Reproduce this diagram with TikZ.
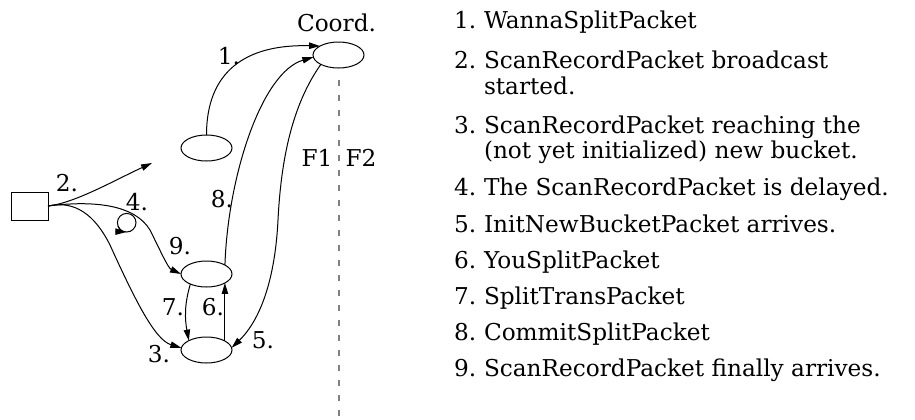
\documentclass[tikz,border=0pt]{standalone}
\usepackage{fontspec}
\setmainfont{DejaVu Serif}
\usetikzlibrary{arrows.meta,shapes.geometric,calc}
\definecolor{sepgray}{RGB}{128,128,128}
\begin{document}
\begin{tikzpicture}[x=0.5pt,y=-0.5pt,
  every node/.style={font=\fontsize{11.6}{13}\selectfont, inner sep=0pt, outer sep=0pt},
  site/.style={ellipse, draw, line width=0.5pt, minimum width=25.5pt, minimum height=13pt},
  hostbox/.style={rectangle, draw, line width=0.5pt, minimum width=18.5pt, minimum height=14pt},
  pkt/.style={line width=0.5pt, -{Triangle[length=5.5pt,width=3.2pt]}},
  wire/.style={line width=0.5pt},
  lbl/.style={anchor=center},
  item/.style={anchor=base west},
  sep/.style={draw=sepgray, line width=0.6pt, dash pattern=on 3pt off 4.5pt}]
\useasboundingbox (0,0) rectangle (915,419);

% sites and the client host
\node[site] (coord) at (338.5,55) {};
\node[site] (old)   at (206.5,148) {};
\node[site] (mid)   at (206.5,274) {};
\node[site] (bot)   at (206.5,350) {};
\node[hostbox] (box) at (29.5,206) {};
\node[lbl] (coordlbl) at (336.5,23) {Coord.};

% separator between F1 and F2
\coordinate (sepTop) at (339,80);
\coordinate (sepBot) at (339,419);
\draw[sep] (sepTop) -- (sepBot);
\node[lbl] (f1) at (317,158) {F1};
\node[lbl] (f2) at (361,158) {F2};

% messages
\draw[pkt] (old.90) .. controls (206.5,72) and (245,44) .. (coord.154);
\coordinate (bcast) at (152,163);
\draw[pkt] (box.east) .. controls (75,203) and (115,180) .. (bcast);
\draw[pkt] (box.east) .. controls (95,200) and (135,205) .. (150,230)
                      .. controls (160,250) and (168,268) .. (mid.west);
\draw[pkt] (box.east) .. controls (75,200) and (95,215) .. (110,245)
                      .. controls (135,300) and (155,340) .. (bot.175);
\draw[pkt] (coord.208) .. controls (292,105) and (281,160) .. (278,220)
                       .. controls (274,300) and (250,330) .. (bot.5);
\draw[pkt] (mid.212) .. controls (184,305) and (185,320) .. (bot.152);
\draw[pkt] (bot.26) -- (mid.334);
\draw[pkt] (mid.26) .. controls (228,175) and (262,72) .. (coord.185);

% delay loop
\coordinate (loopc) at (126.7,222.7);
\draw[wire] (loopc) circle[radius=4.65pt];
\draw[pkt] ([shift={(200:4.65pt)}]loopc) arc[start angle=200, end angle=268, radius=4.65pt];

% message numbers
\node[lbl] (n1) at (229,56) {1.};
\node[lbl] (n2) at (67,183) {2.};
\node[lbl] (n3) at (159,354) {3.};
\node[lbl] (n4) at (137,202) {4.};
\node[lbl] (n5) at (263,340) {5.};
\node[lbl] (n6) at (213,307) {6.};
\node[lbl] (n7) at (173,307) {7.};
\node[lbl] (n8) at (222,199) {8.};
\node[lbl] (n9) at (180,246) {9.};

% legend
\node[item] (l1)  at (454,28.5)  {1.};
\node[item] (t1)  at (484,28.5)  {WannaSplitPacket};
\node[item] (l2)  at (454,68.5)  {2.};
\node[item] (t2)  at (484,68.5)  {ScanRecordPacket broadcast};
\node[item] (t2b) at (484,94.5)  {started.};
\node[item] (l3)  at (454,133.5) {3.};
\node[item] (t3)  at (484,133.5) {ScanRecordPacket reaching the};
\node[item] (t3b) at (484,158.5) {(not yet initialized) new bucket.};
\node[item] (l4)  at (454,195.5) {4.};
\node[item] (t4)  at (484,195.5) {The ScanRecordPacket is delayed.};
\node[item] (l5)  at (454,232.5) {5.};
\node[item] (t5)  at (484,232.5) {InitNewBucketPacket arrives.};
\node[item] (l6)  at (454,268.5) {6.};
\node[item] (t6)  at (484,268.5) {YouSplitPacket};
\node[item] (l7)  at (454,304.5) {7.};
\node[item] (t7)  at (484,304.5) {SplitTransPacket};
\node[item] (l8)  at (454,340.5) {8.};
\node[item] (t8)  at (484,340.5) {CommitSplitPacket};
\node[item] (l9)  at (454,376.5) {9.};
\node[item] (t9)  at (484,376.5) {ScanRecordPacket finally arrives.};
\end{tikzpicture}
\end{document}
